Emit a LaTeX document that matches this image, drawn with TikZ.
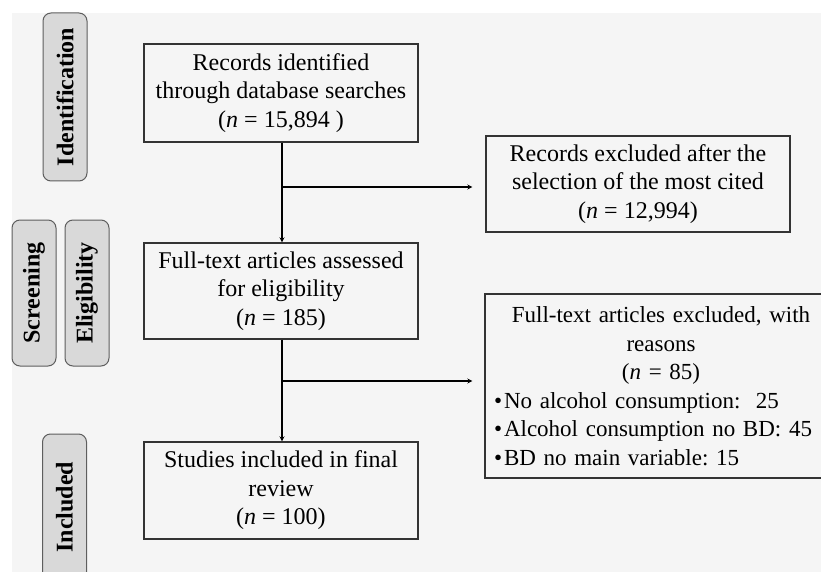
\documentclass[tikz,border=0pt]{standalone}
\usepackage{fontspec}
\setmainfont{Liberation Serif}
\usetikzlibrary{positioning,arrows}
\definecolor{pagegrey}{HTML}{F5F5F5}
\definecolor{phasegrey}{HTML}{D9D9D9}
\definecolor{edgegrey}{HTML}{5E5E5E}
\frenchspacing

\begin{document}
\begin{tikzpicture}[x=1pt,y=-1pt,font=\fontsize{24}{28.5}\selectfont,
  box/.style={draw=black!80,line width=1.3pt,align=center,minimum width=274pt,inner sep=0pt},
  phase/.style={draw=edgegrey,fill=phasegrey,rounded corners=8pt,line width=1pt,rotate=90,
    minimum height=44pt,inner sep=0pt,font=\fontsize{24}{28}\selectfont\bfseries},
  flow/.style={-stealth,line width=1.2pt}]

\useasboundingbox (0,0) rectangle (821,572);
\fill[pagegrey] (12,13) rectangle (821,572);

% phase labels
\node[phase,minimum width=168pt] (ident) at (65,97) {Identification};
\node[phase,minimum width=146pt] (screen) at (34,293) {Screening};
\node[phase,minimum width=146pt] (elig) at (87,293) {Eligibility};
\node[phase,minimum width=146pt] (incl) at (64.5,507) {Included};

% main flow
\node[box,minimum height=98pt] (records) at (281,93) {Records identified\\through database searches\\(\textit{n} = 15,894 )};
\node[box,minimum height=96pt] (fulltext) at (281,291) {Full-text articles assessed\\for eligibility\\(\textit{n} = 185)};
\node[box,minimum height=97pt] (studies) at (281,490.5) {Studies included in final\\review\\(\textit{n} = 100)};

% exclusions
\node[box,minimum width=304pt,minimum height=96pt] (excl1) at (638,184) {Records excluded after the\\selection of the most cited\\(\textit{n} = 12,994)};
\node[draw=black!80,line width=1.3pt,text width=334pt,inner sep=9pt,minimum height=184pt,
  font=\fontsize{23}{28.5}\selectfont] (excl2) at (661,386) {%
  {\centering Full-text articles excluded, with\\reasons\\(\textit{n} = 85)\par}%
  \raggedright •\kern2pt No alcohol consumption:\ \ 25\\
  •\kern2pt Alcohol consumption no BD: 45\\
  •\kern2pt BD no main variable: 15};

\coordinate (split1) at (282,187);
\coordinate (split2) at (282,381);

\draw[flow] (records.south -| split1) -- (fulltext.north -| split1);
\draw[flow] (fulltext.south -| split2) -- (studies.north -| split2);
\draw[flow,shorten >=13pt] (split1) -- (split1 -| excl1.west);
\draw[flow,shorten >=12pt] (split2) -- (split2 -| excl2.west);

\end{tikzpicture}
\end{document}
